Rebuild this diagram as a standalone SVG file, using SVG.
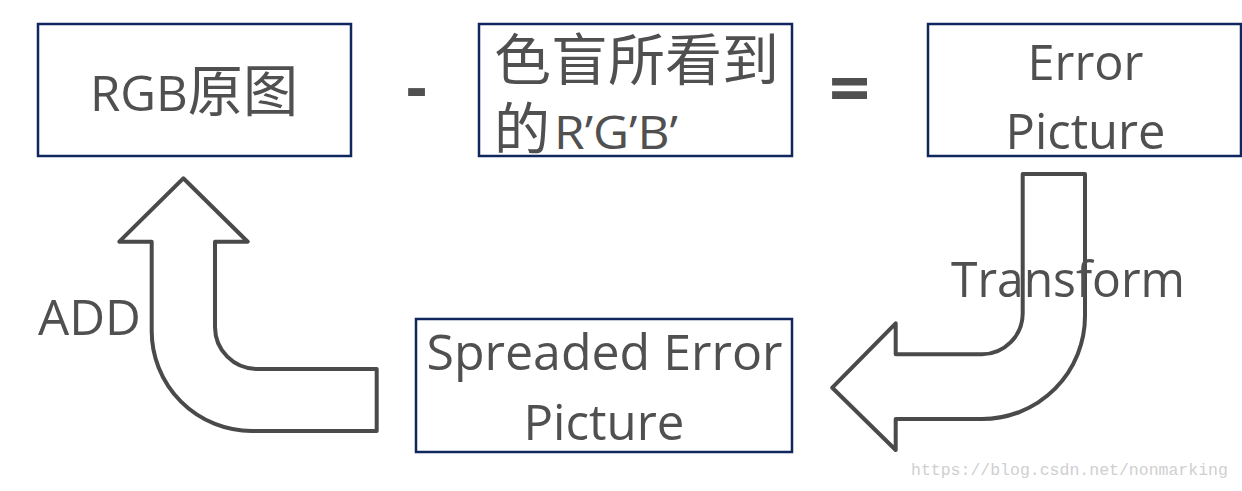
<svg xmlns="http://www.w3.org/2000/svg" width="1242" height="491" viewBox="0 0 1242 491">
<style>
.box{fill:#fff;stroke:#10265e;stroke-width:2.5}
.t{font-family:"Open Sans","Noto Sans CJK SC",sans-serif;font-size:50px;fill:#505050}
.cjk{font-family:"Open Sans","Noto Sans CJK SC",sans-serif;font-size:56px;fill:#505050}
.sym{font-family:"Open Sans",sans-serif;font-weight:bold;fill:#505050}
.arrow{fill:#fff;stroke:#4a4a4a;stroke-width:4;stroke-linejoin:round}
.wm{font-family:"Liberation Mono",monospace;font-size:16.5px;fill:#cfcfcf}
</style>
<rect width="1242" height="491" fill="#fff"/>
<g id="connectors">
<path class="arrow" d="M183.3 178.3 L247.7 241.7 L215 241.7 L215 327 A42 42 0 0 0 257 369 L376.7 369 L376.7 431 L251.7 431 A100 100 0 0 1 151.7 331 L151.7 241.7 L119.3 241.7 Z"/>
<path class="arrow" d="M1022.7 174 L1085 174 L1085 316 A103 103 0 0 1 982 419 L895.7 419 L895.7 450 L832.3 387.7 L895.7 323.3 L895.7 354.3 L982 354.3 A41 41 0 0 0 1022.7 313.3 Z"/>
<text class="t" x="38" y="335" textLength="103" lengthAdjust="spacingAndGlyphs">ADD</text>
<text class="t" x="951" y="297" textLength="234" lengthAdjust="spacingAndGlyphs">Transform</text>
</g>
<g id="rgb">
<rect class="box" x="38" y="24" width="313" height="132"/>
<text class="t" x="90" y="111" textLength="208" lengthAdjust="spacingAndGlyphs">RGB<tspan style="font-size:56px">原图</tspan></text>
</g>
<g id="minus">
<text class="sym" x="416.5" y="109" text-anchor="middle" style="font-size:64px">-</text>
</g>
<g id="seen">
<rect class="box" x="479" y="24" width="313" height="132"/>
<text class="cjk" x="494" y="80" textLength="285" lengthAdjust="spacingAndGlyphs">色盲所看到</text>
<text class="cjk" x="494" y="149">的</text>
<text class="t" x="554" y="149" textLength="124" lengthAdjust="spacingAndGlyphs" style="font-size:45px">R’G’B’</text>
</g>
<g id="equals">
<text class="sym" x="849.5" y="114" text-anchor="middle" style="font-size:72px">=</text>
</g>
<g id="error">
<rect class="box" x="928" y="24" width="313" height="132"/>
<text class="t" x="1085.5" y="80" text-anchor="middle" textLength="116" lengthAdjust="spacingAndGlyphs">Error</text>
<text class="t" x="1085.5" y="149" text-anchor="middle" textLength="160" lengthAdjust="spacingAndGlyphs">Picture</text>
</g>
<g id="spreaded">
<rect class="box" x="416" y="319" width="376" height="133"/>
<text class="t" x="604.5" y="370" text-anchor="middle" textLength="356" lengthAdjust="spacingAndGlyphs">Spreaded Error</text>
<text class="t" x="604" y="440" text-anchor="middle" textLength="161" lengthAdjust="spacingAndGlyphs">Picture</text>
</g>
<text class="wm" x="911" y="475">https://blog.csdn.net/nonmarking</text>
</svg>
